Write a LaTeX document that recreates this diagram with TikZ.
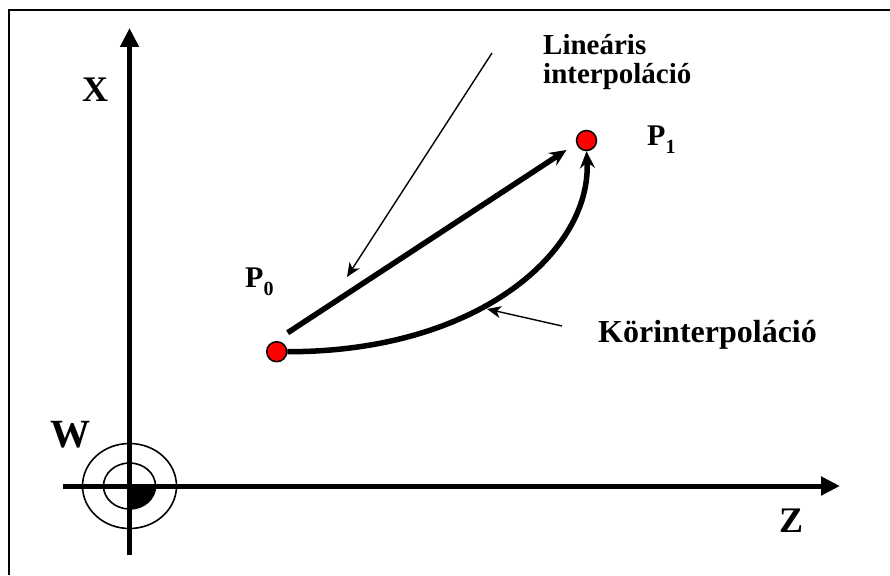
\documentclass[tikz,border=0pt]{standalone}
\usepackage{fontspec}
\setmainfont{Liberation Serif}
\usetikzlibrary{arrows.meta}

\begin{document}
\begin{tikzpicture}[x=1pt, y=-1pt,
    axis/.style={line width=5pt, -{Triangle[length=19pt, width=18pt]}},
    interp/.style={line width=5.5pt, -{Stealth[length=17pt, width=15pt, inset=6pt]}},
    pointer/.style={line width=1.4pt, -{Stealth[length=14pt, width=12pt, inset=4pt]}},
    pt/.style={circle, draw, line width=1.5pt, fill=red, minimum size=20pt, inner sep=0pt},
    lbl/.style={font=\fontsize{#1}{#1}\selectfont\bfseries, inner sep=0pt}
  ]
  \useasboundingbox (0,0) rectangle (890,575);
  % frame
  \draw[line width=2pt] (9,575) -- (9,10) -- (890,10);
  % origin W
  \coordinate (O) at (129.5,486);
  \fill (O) -- ++(26,0) arc[start angle=0, end angle=-90, x radius=26pt, y radius=23pt] -- cycle;
  \draw[line width=1.6pt] (O) ellipse[x radius=26pt, y radius=23pt];
  \draw[line width=1.6pt] (O) ellipse[x radius=47pt, y radius=42.5pt];
  % axes
  \coordinate (xfrom) at (129.5,555);
  \coordinate (xto)   at (129.5,28);
  \coordinate (zfrom) at (63,486);
  \coordinate (zto)   at (840,486);
  \draw[axis] (xfrom) -- (xto);
  \draw[axis] (zfrom) -- (zto);
  \node[lbl=36, anchor=base] (xlbl) at (95,102)  {X};
  \node[lbl=40, anchor=base] (wlbl) at (70,447)  {W};
  \node[lbl=36, anchor=base] (zlbl) at (791,532) {Z};
  % points
  \node[pt] (P0) at (276.7,351.7) {};
  \node[pt] (P1) at (586.5,140.5) {};
  \node[lbl=30, anchor=base west] (p0lbl) at (245,287) {P\raisebox{-8pt}{\fontsize{20}{20}\selectfont 0}};
  \node[lbl=30, anchor=base west] (p1lbl) at (647,145) {P\raisebox{-8pt}{\fontsize{20}{20}\selectfont 1}};
  % interpolations
  \draw[interp] ([shift={(11,-19)}]P0.center) -- ([shift={(-20,9.5)}]P1.center);
  \draw[interp] (P0.east) .. controls (480,352) and (592,250) .. (P1.south);
  % labels and pointers
  \node[lbl=29, anchor=north west, align=left] (linlbl) at (543,34) {Lineáris\\interpoláció};
  \node[lbl=32, anchor=base west] (korlbl) at (598,342) {Körinterpoláció};
  \coordinate (linfrom) at (492,53);
  \coordinate (linto)   at (347,277);
  \coordinate (korfrom) at (562,326);
  \coordinate (korto)   at (487,309);
  \draw[pointer] (linfrom) -- (linto);
  \draw[pointer] (korfrom) -- (korto);
\end{tikzpicture}
\end{document}
